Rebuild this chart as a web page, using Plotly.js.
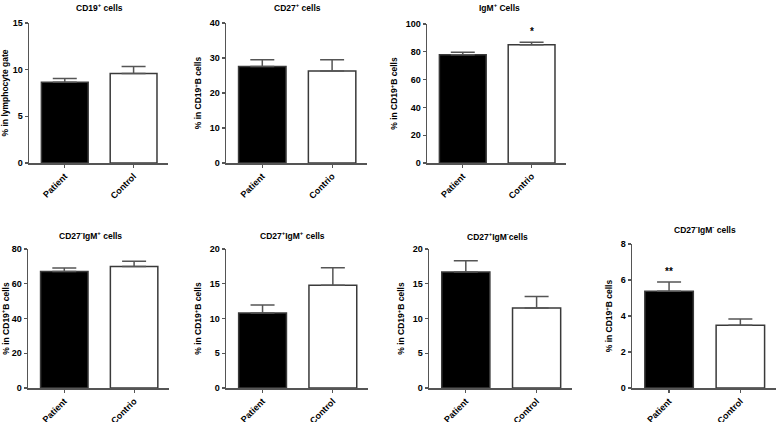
<!DOCTYPE html>
<html>
<head>
<meta charset="utf-8">
<script src="https://cdn.plot.ly/plotly-3.0.1.min.js"></script>
<style>html,body{margin:0;padding:0;background:#fff}#chart{width:777px;height:422px}</style>
</head>
<body>
<div id="chart"></div>
<script>
// ---- data ----
const panelTitles = [
  "CD19<sup>+</sup> cells",
  "CD27<sup>+</sup> cells",
  "IgM<sup>+</sup> Cells",
  "CD27<sup>-</sup>IgM<sup>+</sup> cells",
  "CD27<sup>+</sup>IgM<sup>+</sup> cells",
  "CD27<sup>+</sup>IgM<sup>-</sup>cells",
  "CD27<sup>-</sup>IgM<sup>-</sup> cells"
];
const yTitles = [
  "% in lymphocyte gate",
  "% in CD19<sup>+</sup>B cells",
  "% in CD19<sup>+</sup>B cells",
  "% in CD19<sup>+</sup>B cells",
  "% in CD19<sup>+</sup>B cells",
  "% in CD19<sup>+</sup>B cells",
  "% in CD19<sup>+</sup>B cells"
];
const categories = [
  ["Patient", "Control"],
  ["Patient", "Contrio"],
  ["Patient", "Contrio"],
  ["Patient", "Contrio"],
  ["Patient", "Control"],
  ["Patient", "Control"],
  ["Patient", "Control"]
];
const means = [
  [8.65, 9.6],
  [27.6, 26.3],
  [77.8, 85.0],
  [67.1, 69.9],
  [10.8, 14.8],
  [16.7, 11.5],
  [5.37, 3.49]
];
const sems = [
  [0.4, 0.75],
  [1.9, 3.2],
  [1.9, 1.9],
  [1.9, 3.1],
  [1.15, 2.5],
  [1.6, 1.65],
  [0.52, 0.34]
];
const yMax = [15, 40, 100, 80, 20, 20, 8];
const yTick = [5, 10, 20, 20, 5, 5, 2];
const significance = [
  ["", ""],
  ["", ""],
  ["", "*"],
  ["", ""],
  ["", ""],
  ["", ""],
  ["**", ""]
];

// ---- layout geometry (px) ----
const W = 777, H = 422;
const xPx = [[29,168],[226,367],[427,566],[28,169],[226,368],[429,572],[632,776]];
const yPx = [[23,163],[23,163],[24,163],[249,388],[249,388],[249,388],[244,388]];
const titlePos = [[99,7],[297,7],[499,7],[90,235],[292,235],[497,236],[705,229]];

const fontFam = "Liberation Sans, Arial, sans-serif";
const traces = [];
const layout = {
  width: W, height: H,
  margin: {l:0, r:0, t:0, b:0},
  paper_bgcolor: "#fff", plot_bgcolor: "#fff",
  showlegend: false,
  font: {family: fontFam, color: "#000"},
  annotations: []
};

for (let i = 0; i < 7; i++) {
  const n = i === 0 ? "" : String(i + 1);
  traces.push({
    type: "bar",
    x: categories[i],
    y: means[i],
    xaxis: "x" + n, yaxis: "y" + n,
    width: 0.68,
    marker: {color: ["#000000", "#ffffff"], line: {color: "#3a3a3a", width: 1.5}},
    error_y: {type: "data", symmetric: false, array: sems[i], arrayminus: [0, 0],
              color: "#555", thickness: 1.5, width: 12},
    hoverinfo: "skip"
  });
  layout["xaxis" + n] = {
    domain: [xPx[i][0] / W, xPx[i][1] / W],
    anchor: "y" + n,
    range: [-0.52, 1.5],
    type: "category",
    showline: true, linecolor: "#555", linewidth: 1.5,
    ticks: "outside", ticklen: 3, tickcolor: "#555", tickwidth: 1.2,
    tickangle: -45,
    tickfont: {family: fontFam, size: 9, weight: "bold", color: "#000"},
    showgrid: false, zeroline: false, fixedrange: true
  };
  layout["yaxis" + n] = {
    domain: [1 - yPx[i][1] / H, 1 - yPx[i][0] / H],
    anchor: "x" + n,
    range: [0, yMax[i]],
    dtick: yTick[i], tick0: 0,
    showline: true, linecolor: "#555", linewidth: 1.5,
    ticks: "outside", ticklen: 3, tickcolor: "#555", tickwidth: 1.2,
    tickfont: {family: fontFam, size: 9, weight: "bold", color: "#000"},
    showgrid: false, zeroline: false, fixedrange: true,
    title: {text: yTitles[i], font: {family: fontFam, size: 8.5, weight: "bold", color: "#000"}, standoff: 6}
  };
  layout.annotations.push({
    xref: "paper", yref: "paper",
    x: titlePos[i][0] / W, y: 1 - titlePos[i][1] / H,
    xanchor: "center", yanchor: "middle",
    text: panelTitles[i], showarrow: false,
    font: {family: fontFam, size: 8.5, weight: "bold", color: "#000"}
  });
  for (let j = 0; j < 2; j++) {
    if (significance[i][j]) {
      layout.annotations.push({
        xref: "x" + n, yref: "y" + n,
        x: categories[i][j], y: means[i][j] + sems[i][j],
        yanchor: "bottom", yshift: 3,
        text: significance[i][j], showarrow: false,
        font: {family: fontFam, size: 10, weight: "bold", color: "#000"}
      });
    }
  }
}

Plotly.newPlot("chart", traces, layout, {staticPlot: true});
</script>
</body>
</html>
